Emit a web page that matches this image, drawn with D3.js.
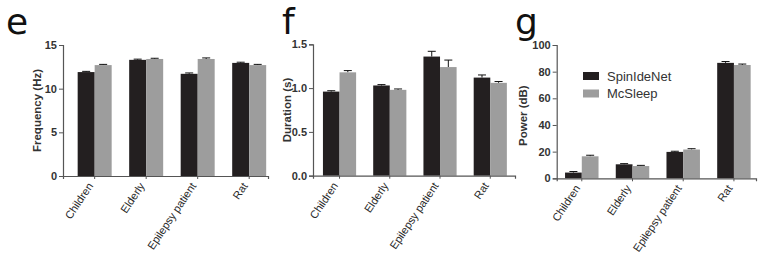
<!DOCTYPE html>
<html lang="en">
<head>
<meta charset="UTF-8">
<title>Spindle characteristics</title>
<script src="https://d3js.org/d3.v7.min.js"></script>
<style>
  body { margin: 0; background: white; }
  svg { display: block; }
</style>
</head>
<body>
<svg id="chart" width="771" height="258"></svg>
<script>
// Data
var groups = ["Children", "Elderly", "Epilepsy patient", "Rat"];
var seriesNames = ["SpinIdeNet", "McSleep"];

var freqSpin = [11.9, 13.3, 11.7, 12.95];
var freqMc   = [12.7, 13.4, 13.4, 12.7];
var freqSpinErr = [0.08, 0.08, 0.1, 0.08];
var freqMcErr   = [0.08, 0.08, 0.12, 0.08];
var freqTicks = [0, 5, 10, 15];

var durSpin = [0.96, 1.03, 1.36, 1.12];
var durMc   = [1.18, 0.98, 1.24, 1.06];
var durSpinErr = [0.01, 0.01, 0.06, 0.03];
var durMcErr   = [0.02, 0.01, 0.08, 0.015];
var durTicks = [0, 0.5, 1.0, 1.5];

var powSpin = [4.3, 10.5, 19.8, 86.6];
var powMc   = [16.5, 9.2, 21.6, 85.0];
var powSpinErr = [0.8, 0.5, 0.5, 1.0];
var powMcErr   = [0.8, 0.5, 0.6, 0.7];
var powTicks = [0, 20, 40, 60, 80, 100];

var colors = ["#231f20", "#9d9d9d"];
var font = "Liberation Sans, Arial, sans-serif";
var svg = d3.select("#chart");

function drawPanel(p) {
    var y = d3.scaleLinear().domain([0, p.max]).range([p.y0, p.y1]);
    var x = d3.scaleBand().domain(groups).range([p.x0, p.x1])
        .paddingInner(0.34).paddingOuter(p.outer).align(p.align);
    var xs = d3.scaleBand().domain(seriesNames).range([0, x.bandwidth()]);

    var g = svg.append("g");

    // panel letter
    g.append("text")
        .attr("x", p.letterX)
        .attr("y", 34)
        .attr("font-family", "DejaVu Sans, sans-serif")
        .attr("font-size", "36px")
        .attr("fill", "#111")
        .text(p.letter);

    var rows = groups.map(function (d, i) {
        return [
            { group: d, s: 0, v: p.a[i], e: p.ae[i] },
            { group: d, s: 1, v: p.b[i], e: p.be[i] }
        ];
    });
    var flat = [].concat.apply([], rows);

    // error bars (upward only) drawn behind the bars
    var err = g.append("g").attr("stroke", "#111").attr("stroke-width", 1);
    flat.forEach(function (d) {
        var cx = x(d.group) + xs(seriesNames[d.s]) + xs.bandwidth() / 2;
        err.append("line")
            .attr("x1", cx).attr("x2", cx)
            .attr("y1", y(d.v)).attr("y2", y(d.v + d.e));
        err.append("line")
            .attr("x1", cx - 4).attr("x2", cx + 4)
            .attr("y1", y(d.v + d.e)).attr("y2", y(d.v + d.e));
    });

    g.append("g").selectAll("rect")
        .data(flat)
        .enter()
        .append("rect")
        .attr("x", function (d) { return x(d.group) + xs(seriesNames[d.s]); })
        .attr("y", function (d) { return y(d.v); })
        .attr("width", xs.bandwidth())
        .attr("height", function (d) { return y(0) - y(d.v); })
        .attr("fill", function (d) { return colors[d.s]; });

    // left axis
    var ya = g.append("g")
        .attr("transform", "translate(" + p.x0 + ",0)")
        .call(d3.axisLeft(y).tickValues(p.ticks).tickFormat(d3.format(p.fmt))
            .tickSize(4).tickPadding(2));
    ya.select(".domain").attr("stroke", "#555").attr("stroke-width", 1.2);
    ya.selectAll(".tick line").attr("stroke", "#555");
    ya.selectAll(".tick text")
        .attr("font-family", font)
        .attr("font-size", "11px")
        .attr("font-weight", "bold")
        .attr("fill", "#333");

    // bottom axis
    var xa = g.append("g")
        .attr("transform", "translate(0," + p.y0 + ")")
        .call(d3.axisBottom(x).tickSizeOuter(0).tickSize(3));
    xa.select(".domain").attr("stroke", "#555").attr("stroke-width", 1.2);
    xa.selectAll(".tick line").attr("stroke", "#555");
    xa.selectAll(".tick text")
        .attr("font-family", font)
        .attr("font-size", "11px")
        .attr("fill", "#2a2a2a")
        .attr("text-anchor", "end")
        .attr("dy", 0)
        .attr("y", 0)
        .attr("transform", "translate(-1,10) rotate(-56)");

    // y label
    g.append("text")
        .attr("transform", "translate(" + p.labelX + "," + ((p.y0 + p.y1) / 2 + p.labelDy) + ") rotate(-90)")
        .attr("text-anchor", "middle")
        .attr("font-family", font)
        .attr("font-size", "11.5px")
        .attr("font-weight", "bold")
        .attr("fill", "#333")
        .text(p.label);
}

drawPanel({ letter: "e", letterX: 6, a: freqSpin, b: freqMc, ae: freqSpinErr, be: freqMcErr,
    max: 15, ticks: freqTicks, fmt: "d", label: "Frequency (Hz)",
    x0: 63, x1: 268, y0: 176, y1: 45, outer: 0.16, align: 0.89, labelX: 41, labelDy: 0 });

drawPanel({ letter: "f", letterX: 282, a: durSpin, b: durMc, ae: durSpinErr, be: durMcErr,
    max: 1.5, ticks: durTicks, fmt: ".1f", label: "Duration (s)",
    x0: 313, x1: 515, y0: 175.7, y1: 44.3, outer: 0.18, align: 0.55, labelX: 291, labelDy: 0 });

drawPanel({ letter: "g", letterX: 515, a: powSpin, b: powMc, ae: powSpinErr, be: powMcErr,
    max: 100, ticks: powTicks, fmt: "d", label: "Power (dB)",
    x0: 556.7, x1: 756, y0: 178.3, y1: 45, outer: 0.135, align: 0.61, labelX: 527, labelDy: 4 });

// legend inside panel g
var legend = svg.append("g").attr("transform", "translate(583,72)");
seriesNames.forEach(function (name, i) {
    legend.append("rect")
        .attr("x", 0).attr("y", i * 17.5)
        .attr("width", 16).attr("height", 8)
        .attr("fill", colors[i]);
    legend.append("text")
        .attr("x", 24).attr("y", i * 17.5 + 8.5)
        .attr("font-family", font)
        .attr("font-size", "13px")
        .attr("fill", "#333")
        .text(name);
});
</script>
</body>
</html>
